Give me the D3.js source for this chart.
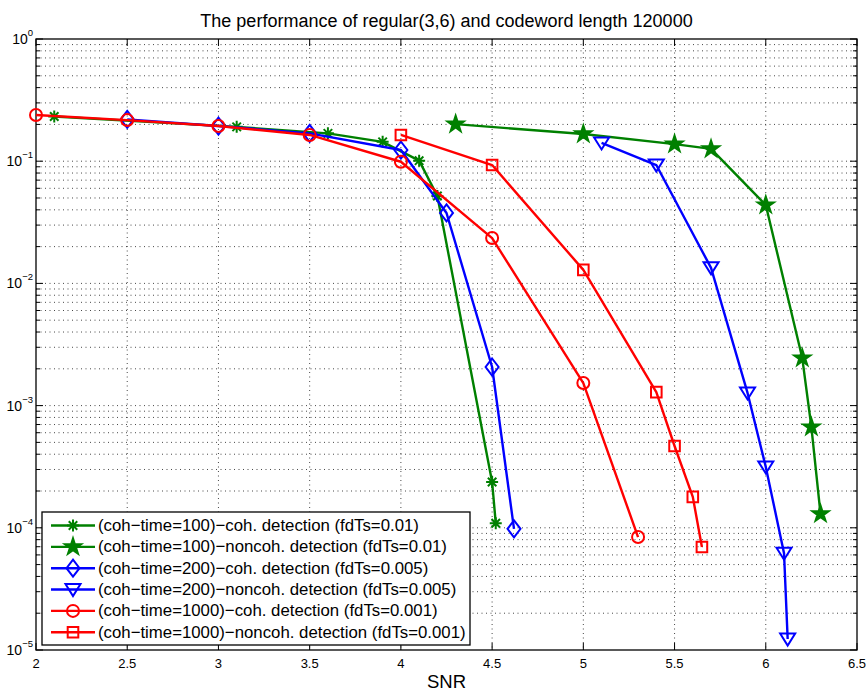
<!DOCTYPE html>
<html>
<head>
<meta charset="utf-8">
<script src="https://cdn.jsdelivr.net/npm/d3@7"></script>
<style>
  html, body { margin: 0; padding: 0; background: #fff; }
  svg { display: block; font-family: "Liberation Sans", Arial, Helvetica, sans-serif; }
</style>
</head>
<body>
<svg id="chart" width="867" height="691"></svg>
<script>
// BER vs SNR for a regular (3,6) LDPC code, codeword length 120000
const titleText = "The performance of regular(3,6) and codeword length 120000";
const xLabel = "SNR";

const xTicks = [2, 2.5, 3, 3.5, 4, 4.5, 5, 5.5, 6, 6.5];
const yDecades = [0, -1, -2, -3, -4, -5];

// coherence time 100, coherent detection (fdTs = 0.01)
const snrT100Coh = [2.1, 3.1, 3.6, 3.9, 4.1, 4.2, 4.5, 4.52];
const berT100Coh = [0.232, 0.191, 0.169, 0.144, 0.101, 0.0519, 2.37e-4, 1.09e-4];

// coherence time 100, noncoherent detection (fdTs = 0.01)
const snrT100Non = [4.3, 5.0, 5.5, 5.7, 6.0, 6.2, 6.25, 6.3];
const berT100Non = [0.201, 0.167, 0.138, 0.126, 0.0438, 2.45e-3, 6.68e-4, 1.30e-4];

// coherence time 200, coherent detection (fdTs = 0.005)
const snrT200Coh = [2.5, 3.0, 3.5, 4.0, 4.25, 4.5, 4.62];
const berT200Coh = [0.220, 0.194, 0.169, 0.1235, 0.0377, 2.07e-3, 9.8e-5];

// coherence time 200, noncoherent detection (fdTs = 0.005)
const snrT200Non = [5.1, 5.4, 5.7, 5.9, 6.0, 6.1, 6.12];
const berT200Non = [0.141, 0.093, 0.0134, 1.27e-3, 3.15e-4, 6.2e-5, 1.23e-5];

// coherence time 1000, coherent detection (fdTs = 0.001)
const snrT1000Coh = [2.0, 2.5, 3.0, 3.5, 4.0, 4.5, 5.0, 5.3];
const berT1000Coh = [0.239, 0.217, 0.194, 0.164, 0.099, 0.0235, 1.53e-3, 8.4e-5];

// coherence time 1000, noncoherent detection (fdTs = 0.001)
const snrT1000Non = [4.0, 4.5, 5.0, 5.4, 5.5, 5.6, 5.65];
const berT1000Non = [0.164, 0.093, 0.0129, 1.29e-3, 4.67e-4, 1.79e-4, 6.97e-5];

const seriesNames = [
  "(coh\u2212time=100)\u2212coh. detection (fdTs=0.01)",
  "(coh\u2212time=100)\u2212noncoh. detection (fdTs=0.01)",
  "(coh\u2212time=200)\u2212coh. detection (fdTs=0.005)",
  "(coh\u2212time=200)\u2212noncoh. detection (fdTs=0.005)",
  "(coh\u2212time=1000)\u2212coh. detection (fdTs=0.001)",
  "(coh\u2212time=1000)\u2212noncoh. detection (fdTs=0.001)"
];

const series = [
  { name: seriesNames[0], x: snrT100Coh,  y: berT100Coh,  color: "#008000", marker: "asterisk" },
  { name: seriesNames[1], x: snrT100Non,  y: berT100Non,  color: "#008000", marker: "pentagram" },
  { name: seriesNames[2], x: snrT200Coh,  y: berT200Coh,  color: "#0000ff", marker: "diamond" },
  { name: seriesNames[3], x: snrT200Non,  y: berT200Non,  color: "#0000ff", marker: "triangleDown" },
  { name: seriesNames[4], x: snrT1000Coh, y: berT1000Coh, color: "#ff0000", marker: "circle" },
  { name: seriesNames[5], x: snrT1000Non, y: berT1000Non, color: "#ff0000", marker: "square" }
];

const plot = { left: 36, right: 857, top: 39, bottom: 650 };

const svg = d3.select("#chart");
const x = d3.scaleLinear().domain([2, 6.5]).range([plot.left, plot.right]);
const y = d3.scaleLog().domain([1e-5, 1]).range([plot.bottom, plot.top]);

// minor ticks 2..9 of each decade
const minorVals = [];
for (let e = -5; e < 0; e++) for (let k = 2; k <= 9; k++) minorVals.push(k * Math.pow(10, e));
const majorVals = yDecades.map(e => Math.pow(10, e));

// grid (dotted)
const grid = svg.append("g").attr("stroke", "#333").attr("stroke-width", 0.9)
  .attr("stroke-dasharray", "1,3.5").attr("fill", "none");
grid.selectAll("line.gx").data(xTicks.slice(1, -1)).join("line")
  .attr("x1", d => x(d)).attr("x2", d => x(d)).attr("y1", plot.top).attr("y2", plot.bottom);
grid.selectAll("line.gy").data(minorVals.concat(majorVals.slice(1, -1))).join("line")
  .attr("x1", plot.left).attr("x2", plot.right).attr("y1", d => y(d)).attr("y2", d => y(d));

// axes box and ticks
const axes = svg.append("g").attr("stroke", "#000").attr("fill", "none");
axes.append("rect").attr("x", plot.left).attr("y", plot.top)
  .attr("width", plot.right - plot.left).attr("height", plot.bottom - plot.top)
  .attr("stroke-width", 1.3);

xTicks.forEach(t => {
  axes.append("line").attr("x1", x(t)).attr("x2", x(t)).attr("y1", plot.bottom).attr("y2", plot.bottom - 7);
  axes.append("line").attr("x1", x(t)).attr("x2", x(t)).attr("y1", plot.top).attr("y2", plot.top + 7);
});
majorVals.forEach(v => {
  axes.append("line").attr("x1", plot.left).attr("x2", plot.left + 7).attr("y1", y(v)).attr("y2", y(v));
  axes.append("line").attr("x1", plot.right).attr("x2", plot.right - 7).attr("y1", y(v)).attr("y2", y(v));
});
minorVals.forEach(v => {
  axes.append("line").attr("x1", plot.left).attr("x2", plot.left + 4).attr("y1", y(v)).attr("y2", y(v));
  axes.append("line").attr("x1", plot.right).attr("x2", plot.right - 4).attr("y1", y(v)).attr("y2", y(v));
});

// tick labels
const labels = svg.append("g").attr("fill", "#000");
labels.selectAll("text.xt").data(xTicks).join("text")
  .attr("x", d => x(d)).attr("y", 668).attr("text-anchor", "middle")
  .attr("font-size", 13).text(d => d3.format("")(d));

yDecades.forEach(e => {
  const ty = y(Math.pow(10, e));
  const t = labels.append("text").attr("x", 33).attr("y", ty + 5)
    .attr("text-anchor", "end").attr("font-size", 14);
  t.append("tspan").text("10");
  t.append("tspan").attr("font-size", 9.5).attr("dy", -8).text(e === 0 ? "0" : "\u2212" + Math.abs(e));
});

// title and axis label
svg.append("text").attr("x", (plot.left + plot.right) / 2).attr("y", 27)
  .attr("text-anchor", "middle").attr("font-size", 18).text(titleText);
svg.append("text").attr("x", (plot.left + plot.right) / 2).attr("y", 688)
  .attr("text-anchor", "middle").attr("font-size", 18.5).text(xLabel);

// marker path generators centred on (0,0)
function markerPath(kind) {
  const p = d3.path();
  if (kind === "asterisk") {
    const r = 6, q = r * Math.SQRT1_2;
    p.moveTo(-r, 0); p.lineTo(r, 0);
    p.moveTo(0, -r); p.lineTo(0, r);
    p.moveTo(-q, -q); p.lineTo(q, q);
    p.moveTo(-q, q); p.lineTo(q, -q);
  } else if (kind === "pentagram") {
    const ro = 8.5, ri = ro * 0.382;
    for (let i = 0; i < 10; i++) {
      const a = -Math.PI / 2 + i * Math.PI / 5;
      const r = i % 2 === 0 ? ro : ri;
      if (i === 0) p.moveTo(r * Math.cos(a), r * Math.sin(a));
      else p.lineTo(r * Math.cos(a), r * Math.sin(a));
    }
    p.closePath();
  } else if (kind === "diamond") {
    p.moveTo(0, -8.5); p.lineTo(6.5, 0); p.lineTo(0, 8.5); p.lineTo(-6.5, 0); p.closePath();
  } else if (kind === "triangleDown") {
    p.moveTo(-7.5, -5.5); p.lineTo(7.5, -5.5); p.lineTo(0, 6.5); p.closePath();
  } else if (kind === "circle") {
    p.moveTo(6, 0); p.arc(0, 0, 6, 0, 2 * Math.PI);
  } else if (kind === "square") {
    p.rect(-5.3, -5.3, 10.6, 10.6);
  }
  return p.toString();
}

const line = d3.line().x(d => x(d[0])).y(d => y(d[1]));

const plotG = svg.append("g");
series.forEach(s => {
  const pts = s.x.map((v, i) => [v, s.y[i]]);
  const g = plotG.append("g");
  g.append("path").datum(pts).attr("d", line)
    .attr("fill", "none").attr("stroke", s.color).attr("stroke-width", 2.4)
    .attr("stroke-linejoin", "round");
  g.selectAll("path.mk").data(pts).join("path")
    .attr("transform", d => `translate(${x(d[0])},${y(d[1])})`)
    .attr("d", markerPath(s.marker))
    .attr("fill", s.marker === "pentagram" ? s.color : "none")
    .attr("stroke", s.color).attr("stroke-width", 2);
});

// legend
const lg = svg.append("g");
lg.append("rect").attr("x", 42).attr("y", 512).attr("width", 428).attr("height", 133)
  .attr("fill", "#fff").attr("stroke", "#000").attr("stroke-width", 1.3);
series.forEach((s, i) => {
  const cy = 525.5 + i * 21.35;
  lg.append("line").attr("x1", 51).attr("x2", 95).attr("y1", cy).attr("y2", cy)
    .attr("stroke", s.color).attr("stroke-width", 2.4);
  lg.append("path").attr("transform", `translate(73,${cy})`).attr("d", markerPath(s.marker))
    .attr("fill", s.marker === "pentagram" ? s.color : "none")
    .attr("stroke", s.color).attr("stroke-width", 2);
  lg.append("text").attr("x", 98).attr("y", cy + 5.5).attr("font-size", 16.8)
    .attr("fill", "#000").text(s.name);
});
</script>
</body>
</html>
